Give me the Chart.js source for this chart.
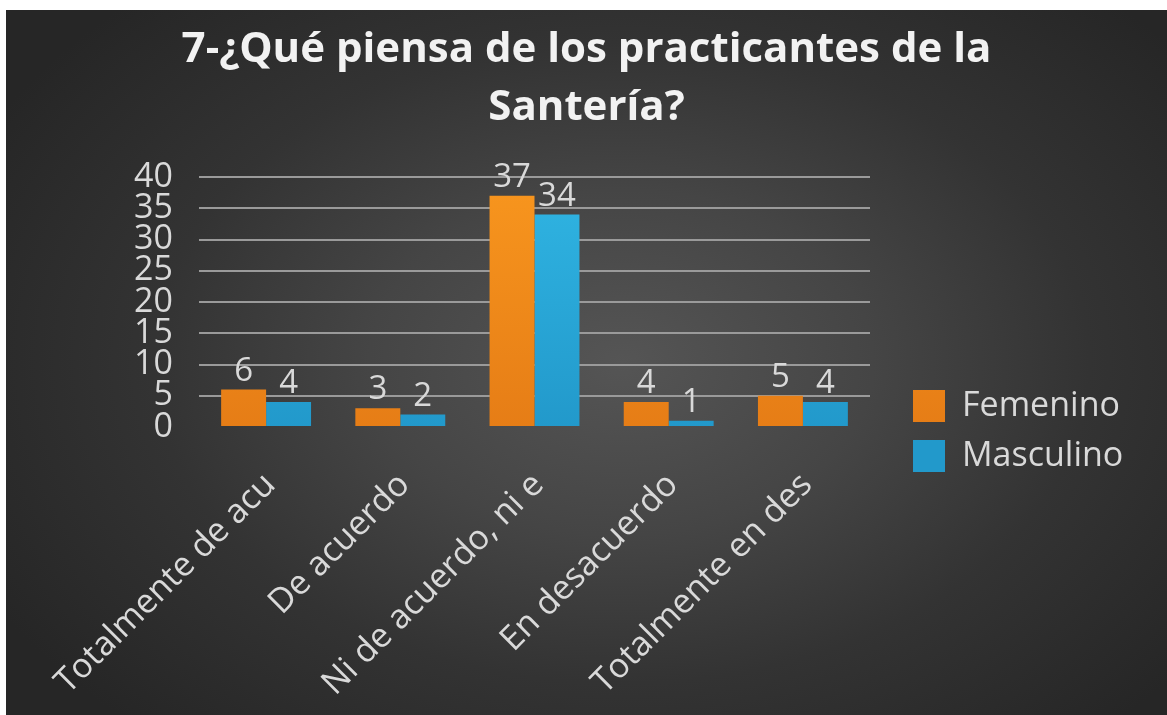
<!DOCTYPE html>
<html><head><meta charset="utf-8">
<script src="https://cdn.jsdelivr.net/npm/chart.js@4/dist/chart.umd.min.js"></script>
<style>
html,body{margin:0;padding:0;background:#fff;}
#wrap{position:absolute;left:6px;top:10px;width:1161px;height:705px;
background: radial-gradient(ellipse 62% 70% at 53% 50%, #555555 0%, #454545 35%, #333333 65%, #262626 100%);}
canvas{display:block}
</style></head><body><div id="wrap"><canvas id="c" width="1161" height="705"></canvas></div>
<script>
const titleLines = ['7-¿Qué piensa de los practicantes de la', 'Santería?'];
const categories = ['Totalmente de acuerdo', 'De acuerdo', 'Ni de acuerdo, ni en desacuerdo', 'En desacuerdo', 'Totalmente en desacuerdo'];
const tickLabels = ['Totalmente de acu', 'De acuerdo', 'Ni de acuerdo, ni e', 'En desacuerdo', 'Totalmente en des'];
const seriesNames = ['Femenino', 'Masculino'];
const femenino = [6, 3, 37, 4, 5];
const masculino = [4, 2, 34, 1, 4];
const yMin = 0, yMax = 40, yStep = 5;

const FONT = 'Open Sans';
const TXT = '#d9d9d9';

function grad(c1, c2) {
  return (ctx) => {
    const chart = ctx.chart; const a = chart.chartArea;
    if (!a) return c1;
    const g = chart.ctx.createLinearGradient(0, a.top, 0, a.bottom);
    g.addColorStop(0, c1); g.addColorStop(1, c2);
    return g;
  };
}

const layoutFix = {
  id: 'layoutFix',
  beforeLayout(chart) {
    const lg = chart.legend;
    if (lg && !lg._patched) {
      const f = lg.fit;
      lg.fit = function () { f.call(this); this.width = 297; };
      lg._patched = true;
    }
  },
  afterLayout(chart) {
    const lg = chart.legend;
    if (!lg) return;
    lg.left = 891; lg.top = 363; lg.right = 1161; lg.bottom = 705;
    lg.width = lg.right - lg.left; lg.height = lg.bottom - lg.top;
  }
};

const valueLabels = {
  id: 'valueLabels',
  afterDatasetsDraw(chart) {
    const ctx = chart.ctx;
    ctx.save();
    ctx.font = '33px "' + FONT + '"';
    ctx.fillStyle = TXT;
    ctx.textAlign = 'center';
    ctx.textBaseline = 'alphabetic';
    chart.data.datasets.forEach((ds, di) => {
      const meta = chart.getDatasetMeta(di);
      meta.data.forEach((el, i) => {
        ctx.fillText(String(ds.data[i]), el.x, el.y - 9);
      });
    });
    ctx.restore();
  }
};

new Chart(document.getElementById('c'), {
  type: 'bar',
  data: {
    labels: categories,
    datasets: [
      { label: seriesNames[0], data: femenino, backgroundColor: grad('#F8961E', '#E67D16'), borderWidth: 0, categoryPercentage: 0.67, barPercentage: 1.0 },
      { label: seriesNames[1], data: masculino, backgroundColor: grad('#30B5E3', '#2299CB'), borderWidth: 0, categoryPercentage: 0.67, barPercentage: 1.0 }
    ]
  },
  options: {
    responsive: false,
    animation: false,
    devicePixelRatio: 1,
    layout: { padding: 0 },
    plugins: {
      title: {
        display: true,
        text: titleLines,
        color: '#f2f2f2',
        font: { family: FONT, size: 42, weight: 'bold', lineHeight: 58 / 42 },
        padding: { top: 11, bottom: 40 }
      },
      legend: {
        display: true,
        position: 'right',
        align: 'start',
        labels: {
          color: TXT,
          font: { family: FONT, size: 34 },
          boxWidth: 32, boxHeight: 32, padding: 16
        }
      },
      tooltip: { enabled: false }
    },
    scales: {
      x: {
        grid: { display: false },
        border: { display: false },
        ticks: {
          color: TXT,
          font: { family: FONT, size: 34 },
          minRotation: 45, maxRotation: 45,
          autoSkip: false,
          padding: 30,
          labelOffset: 4,
          callback: (v, i) => tickLabels[i]
        },
        afterFit: (s) => { s.height = 288; }
      },
      y: {
        min: yMin, max: yMax,
        grid: {
          color: (c) => (c.tick && c.tick.value === 0) ? 'rgba(0,0,0,0)' : '#9a9a9a',
          lineWidth: 2,
          drawTicks: false
        },
        border: { display: false },
        ticks: {
          stepSize: yStep,
          autoSkip: false,
          color: TXT,
          font: { family: FONT, size: 34, lineHeight: 1 },
          padding: 26
        },
        afterFit: (s) => { s.width = 193; }
      }
    }
  },
  plugins: [layoutFix, valueLabels]
});
</script>
</body></html>
